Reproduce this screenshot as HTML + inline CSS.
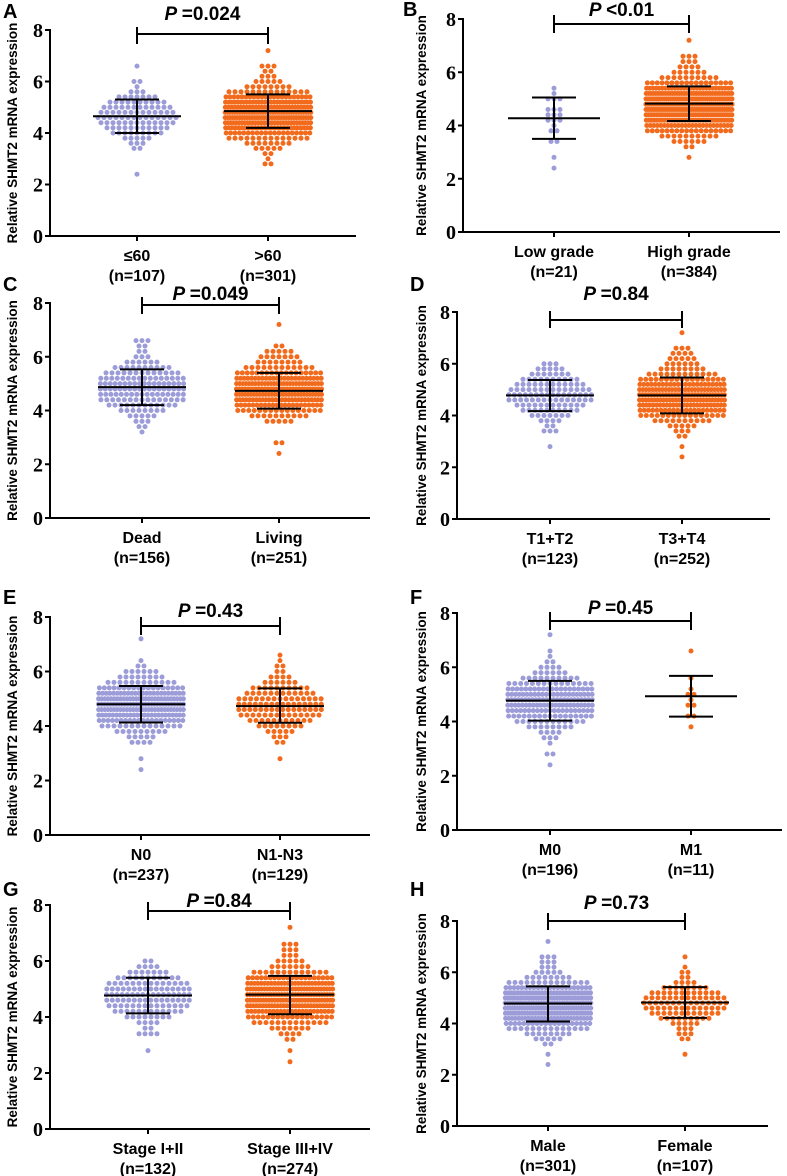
<!DOCTYPE html>
<html><head><meta charset="utf-8"><style>
html,body{margin:0;padding:0;background:#fff;}
svg{display:block;font-family:"Liberation Sans",Arial,sans-serif;}
</style></head><body>
<svg id="fig" width="787" height="1176" viewBox="0 0 787 1176"></svg>
<script>
const bins=[2.4,2.6,2.8,3.0,3.2,3.4,3.6,3.8,4.0,4.2,4.4,4.6,4.8,5.0,5.2,5.4,5.6,5.8,6.0,6.2,6.4,6.6,6.8,7.0,7.2];
const yTicks=[0,2,4,6,8];
const countsA1=[1,0,0,0,0,2,3,5,9,11,13,14,13,12,10,7,3,1,2,0,0,1,0,0,0];
const countsA2=[0,0,2,1,2,5,8,14,20,27,32,36,37,34,29,22,14,8,5,3,2,3,0,0,1];
const countsB1=[1,0,1,0,0,2,0,2,1,3,3,3,0,3,1,1,0,0,0,0,0,0,0,0,0];
const countsB2=[0,0,1,0,2,6,10,18,25,34,41,46,47,43,37,28,18,10,6,4,3,3,0,0,1];
const countsC1=[0,0,0,0,1,2,3,5,8,12,15,17,18,18,16,13,10,6,3,2,2,3,0,0,0];
const countsC2=[1,0,2,0,0,0,5,10,16,22,27,30,31,28,24,18,12,8,7,5,2,0,0,0,1];
const countsD1=[0,0,1,0,0,3,2,4,7,10,12,15,16,14,12,10,7,5,3,0,0,0,0,0,0];
const countsD2=[1,0,1,0,2,3,5,10,16,21,26,29,30,27,23,17,12,8,6,5,4,3,0,0,1];
const countsE1=[1,0,1,0,0,4,5,9,14,20,25,28,30,28,24,18,12,8,6,2,1,0,0,0,1];
const countsE2=[0,0,1,0,0,2,3,5,8,11,14,16,16,15,12,10,6,4,2,2,1,1,0,0,0];
const countsF1=[1,0,2,0,1,3,4,8,12,17,21,24,25,23,20,15,10,6,4,2,1,1,0,0,1];
const countsF2=[0,0,0,0,0,0,0,1,0,2,0,2,1,2,1,0,1,0,0,0,0,1,0,0,0];
const countsG1=[0,0,1,0,0,4,2,4,8,12,14,16,17,16,14,11,7,4,2,0,0,0,0,0,0];
const countsG2=[1,0,1,0,2,4,7,13,18,24,29,32,33,31,26,20,13,7,5,3,3,3,0,0,1];
const countsH1=[1,0,1,0,2,5,8,14,20,27,32,36,37,34,29,22,14,8,5,3,3,3,0,0,1];
const countsH2=[0,0,1,0,0,2,3,3,5,9,12,14,15,14,12,8,4,2,2,1,0,1,0,0,0];
const meansSD=[[4.65,4.0,5.3],[4.85,4.2,5.5],[4.27,3.5,5.05],[4.82,4.17,5.47],[4.87,4.2,5.53],[4.73,4.07,5.4],[4.78,4.17,5.37],[4.78,4.08,5.47],[4.8,4.13,5.47],[4.73,4.12,5.38],[4.77,4.03,5.5],[4.93,4.18,5.68],[4.77,4.13,5.4],[4.8,4.1,5.47],[4.78,4.08,5.45],[4.82,4.22,5.42]];
const categories=[["≤60","(n=107)",">60","(n=301)"],["Low grade","(n=21)","High grade","(n=384)"],["Dead","(n=156)","Living","(n=251)"],["T1+T2","(n=123)","T3+T4","(n=252)"],["N0","(n=237)","N1-N3","(n=129)"],["M0","(n=196)","M1","(n=11)"],["Stage I+II","(n=132)","Stage III+IV","(n=274)"],["Male","(n=301)","Female","(n=107)"]];
const pValues=["=0.024","<0.01","=0.049","=0.84","=0.43","=0.45","=0.84","=0.73"];
const allCounts=[[countsA1,countsA2],[countsB1,countsB2],[countsC1,countsC2],[countsD1,countsD2],[countsE1,countsE2],[countsF1,countsF2],[countsG1,countsG2],[countsH1,countsH2]];

const layout=[
 {L:"A",lx:3,ly:18,ax:50,xe:356,y8:30,y0:236,g:[137,268],br:34,bt:27,bb:44,pb:20,tx:12},
 {L:"B",lx:403,ly:16,ax:463,xe:780,y8:19,y0:232,g:[554,689],br:24,bt:15,bb:33,pb:16,tx:421},
 {L:"C",lx:3,ly:291,ax:50,xe:370,y8:303,y0:518,g:[142,279],br:305,bt:297,bb:314,pb:300,tx:12},
 {L:"D",lx:410,ly:291,ax:457,xe:770,y8:312,y0:519,g:[550,682],br:320,bt:311,bb:328,pb:300,tx:421},
 {L:"E",lx:3,ly:604,ax:50,xe:370,y8:617,y0:835,g:[141,280],br:626,bt:617,bb:635,pb:617,tx:12},
 {L:"F",lx:410,ly:604,ax:457,xe:782,y8:613,y0:830,g:[550,691],br:621,bt:612,bb:630,pb:614,tx:421},
 {L:"G",lx:3,ly:896,ax:50,xe:370,y8:905,y0:1129,g:[148,290],br:911,bt:902,bb:920,pb:907,tx:12},
 {L:"H",lx:410,ly:896,ax:457,xe:768,y8:921,y0:1126,g:[548,685],br:921,bt:913,bb:930,pb:909,tx:421}
];
const NS="http://www.w3.org/2000/svg";
const svg=document.getElementById('fig');
function mk(tag,attrs,parent){const e=document.createElementNS(NS,tag);for(const k in attrs)e.setAttribute(k,attrs[k]);(parent||svg).appendChild(e);return e;}
const colors=["#9c9cd8","#f26b1d"];
layout.forEach((P,pi)=>{
  const g=mk('g',{});
  
  
  const ys=v=>P.y0-(v/8)*(P.y0-P.y8);
  const lab=mk('text',{x:P.lx,y:P.ly,'font-size':20,'font-weight':'bold'},g);lab.textContent=P.L;
  
  
  const cy=(P.y8+P.y0)/2;
  const yt=mk('text',{x:P.tx,y:cy,'font-size':13.5,'font-weight':'bold','text-anchor':'middle',transform:`rotate(-90 ${P.tx} ${cy})`,dy:5},g);
  yt.textContent="Relative SHMT2 mRNA expression";
  
  
  const ya=mk('line',{x1:P.ax,y1:P.y8-1,x2:P.ax,y2:P.y0+1,stroke:'#000','stroke-width':2},g);
  
  
  const xa=mk('line',{x1:P.ax-1,y1:P.y0,x2:P.xe,y2:P.y0,stroke:'#000','stroke-width':2},g);
  
  
  yTicks.forEach(t=>{
    mk('line',{x1:P.ax-5,y1:ys(t),x2:P.ax,y2:ys(t),stroke:'#000','stroke-width':2},g);
    const tl=mk('text',{x:P.ax-7,y:ys(t)+7,'font-size':20,'font-weight':'bold','font-family':'"Liberation Serif",serif','text-anchor':'end'},g);
    tl.textContent=t;
    
    
  });
  [0,1].forEach(gi=>{
    const cx=P.g[gi];
    mk('line',{x1:cx,y1:P.y0,x2:cx,y2:P.y0+5,stroke:'#000','stroke-width':2},g);
    const counts=allCounts[pi][gi];
    const grp=mk('g',{fill:colors[gi]},g);
    
    
    counts.forEach((c,bi)=>{
      if(!c)return;
      const s=Math.min(6,88/c);
      for(let k=0;k<c;k++){
        const x=cx+(k-(c-1)/2)*s;
        const d=mk('circle',{cx:x.toFixed(1),cy:ys(bins[bi]).toFixed(1),r:2.5},grp);
        
        
      }
    });
    const st=meansSD[pi*2+gi];
    const mw=(counts.reduce((a,b)=>a+b,0)<30)?46:44;
    const ml=mk('line',{x1:cx-mw,y1:ys(st[0]),x2:cx+mw,y2:ys(st[0]),stroke:'#000','stroke-width':2},g);
    
    
    const eb=mk('path',{d:`M${cx},${ys(st[1])}V${ys(st[2])}M${cx-22},${ys(st[1])}H${cx+22}M${cx-22},${ys(st[2])}H${cx+22}`,stroke:'#000','stroke-width':2,fill:'none'},g);
    
    
    const c1=mk('text',{x:cx,y:P.y0+25,'font-size':16,'font-weight':'bold','text-anchor':'middle'},g);
    c1.textContent=categories[pi][gi*2];
    
    
    const c2=mk('text',{x:cx,y:P.y0+45,'font-size':16,'font-weight':'bold','text-anchor':'middle'},g);
    c2.textContent=categories[pi][gi*2+1];
    
    
  });
  const bk=mk('path',{d:`M${P.g[0]},${P.bb}V${P.bt}M${P.g[0]},${P.br}H${P.g[1]}M${P.g[1]},${P.bt}V${P.bb}`,stroke:'#000','stroke-width':2,fill:'none'},g);
  
  
  const pt=mk('text',{x:(P.g[0]+P.g[1])/2,y:P.pb,'font-size':19,'font-weight':'bold','text-anchor':'middle'},g);
  
  
  const ts=mk('tspan',{'font-style':'italic'},pt);ts.textContent="P ";
  const tv=mk('tspan',{},pt);tv.textContent=pValues[pi];
});
</script>
</body></html>
